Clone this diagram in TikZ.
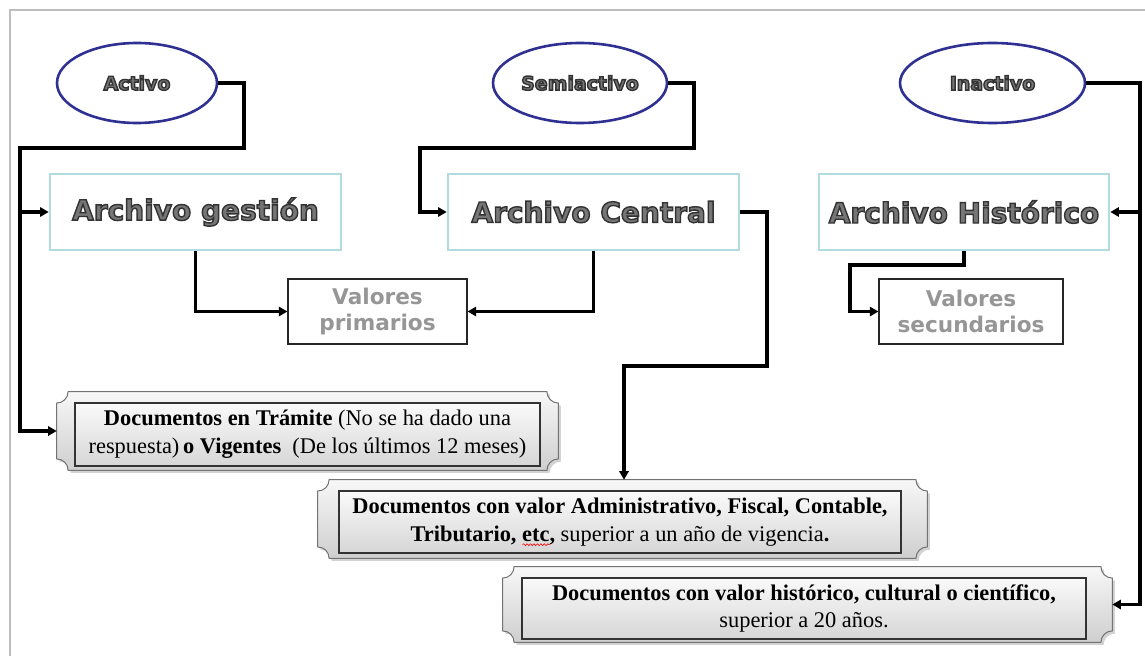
\documentclass[tikz,border=0pt]{standalone}
\usepackage{fontspec}
\setmainfont{Liberation Serif}
\newfontfamily\titlefont{DejaVu Sans}
\usetikzlibrary{arrows.meta,shapes.geometric,shadows,calc,decorations.pathmorphing}
\definecolor{ellblue}{RGB}{46,49,146}
\definecolor{archline}{RGB}{178,220,224}
\definecolor{titlegray}{RGB}{118,118,118}
\definecolor{valgray}{RGB}{150,150,150}
\definecolor{framegray}{RGB}{190,190,190}
\newdimen\pxu \pxu=0.75pt
\newsavebox\wavebox
\newdimen\wavewd
\newcommand\wavy[1]{\sbox\wavebox{#1}\wavewd=\wd\wavebox
  \rlap{\begin{pgfinterruptpicture}\tikz[baseline=0pt,x=1pt,y=1pt]\draw[red,line width=0.45pt,decorate,decoration={snake,amplitude=0.7pt,segment length=2.6pt}] (0pt,-2.6pt) -- (\wavewd,-2.6pt);\end{pgfinterruptpicture}}\usebox\wavebox}
\newcommand\outl[1]{{\special{pdf:literal direct 2 Tr 1.05 w 0.2 0.2 0.2 RG}#1\special{pdf:literal direct 0 Tr}}}
\newcommand\plaquepath[1]{%
  \path[plaqueshape] let \p1=(#1.north west), \p2=(#1.south east) in
    (\x1+8.5pt,\y1) -- (\x2-8.5pt,\y1)
    .. controls (\x2-8.5pt,\y1-4.7pt) and (\x2-4.7pt,\y1-8.5pt) .. (\x2,\y1-8.5pt)
    -- (\x2,\y2+8.5pt)
    .. controls (\x2-4.7pt,\y2+8.5pt) and (\x2-8.5pt,\y2+4.7pt) .. (\x2-8.5pt,\y2)
    -- (\x1+8.5pt,\y2)
    .. controls (\x1+8.5pt,\y2+4.7pt) and (\x1+4.7pt,\y2+8.5pt) .. (\x1,\y2+8.5pt)
    -- (\x1,\y1-8.5pt)
    .. controls (\x1+4.7pt,\y1-8.5pt) and (\x1+8.5pt,\y1-4.7pt) .. (\x1+8.5pt,\y1)
    -- cycle;}
\tikzset{
  ell/.style={ellipse, draw=ellblue, line width=2.6\pxu, fill=white, inner sep=0pt,
    font=\titlefont\bfseries\fontsize{14.2}{16}\selectfont, text=titlegray},
  archbox/.style={rectangle, draw=archline, line width=2.6\pxu, fill=white, inner sep=0pt,
    minimum height=76\pxu, font=\titlefont\bfseries\fontsize{21}{24}\selectfont, text=titlegray},
  valbox/.style={rectangle, draw=black!85, line width=1.1\pxu, fill=white, inner sep=0pt,
    minimum height=65\pxu, align=center,
    font=\titlefont\bfseries\fontsize{16.2}{19}\selectfont, text=valgray},
  plaqueouter/.style={rectangle, draw=none, inner sep=0pt},
  plaqueshape/.style={draw=black!55, line width=1\pxu, top color=gray!6, bottom color=gray!38,
    drop shadow={shadow xshift=2pt, shadow yshift=-2pt, opacity=0.35}},
  docbox/.style={rectangle, draw=black!80, line width=1.3\pxu, top color=gray!4, bottom color=gray!32,
    inner sep=0pt, align=center, font=\fontsize{16.8}{20.8}\selectfont},
  conn/.style={line width=3.2\pxu, draw=black, line join=miter},
  arr/.style={conn, -{Triangle[length=6.5pt,width=7pt]}},
}
\begin{document}
\begin{tikzpicture}[x=0.75pt,y=-0.75pt]
\useasboundingbox (0,0) rectangle (1145,656);
\draw[framegray, line width=1.2\pxu] (10,656) -- (10,10) -- (1145,10);

% ellipses
\node[ell, minimum width=160\pxu, minimum height=80\pxu] (e1) at (137,83) {\outl{Activo}};
\node[ell, minimum width=174\pxu, minimum height=80\pxu] (e2) at (580,83) {\outl{Semiactivo}};
\node[ell, minimum width=185\pxu, minimum height=80\pxu] (e3) at (992.5,83) {\outl{Inactivo}};

% archive boxes
\node[archbox, minimum width=291\pxu] (a1) at (195.5,212) {\outl{Archivo gestión}};
\node[archbox, minimum width=291\pxu] (a2) at (593.5,212) {\outl{Archivo Central}};
\node[archbox, minimum width=290\pxu] (a3) at (964,212) {\outl{Archivo Histórico}};

% valores
\node[valbox, minimum width=179\pxu] (v1) at (377.5,311.5) {Valores\\primarios};
\node[valbox, minimum width=184\pxu] (v2) at (971,311.5) {Valores\\secundarios};

% document plaques
\node[plaqueouter, minimum width=501\pxu, minimum height=78\pxu] (d1) at (307.5,431) {};
\node[plaqueouter, minimum width=609\pxu, minimum height=78\pxu] (d2) at (622.5,519) {};
\node[plaqueouter, minimum width=609\pxu, minimum height=75\pxu] (d3) at (807.5,604.5) {};
\plaquepath{d1}
\plaquepath{d2}
\plaquepath{d3}
\node[docbox, minimum width=465\pxu, minimum height=63\pxu] (t1) at (307.5,434.5)
  {\textbf{Documentos en Trámite} (No se ha dado una\\respuesta)\,\textbf{o Vigentes} \ (De los últimos 12 meses)};
\node[docbox, minimum width=562\pxu, minimum height=62\pxu] (t2) at (620,522)
  {\textbf{Documentos con valor Administrativo, Fiscal, Contable,}\\\textbf{Tributario, \wavy{etc},} superior a un año de vigencia\textbf{.}};
\node[docbox, minimum width=564\pxu, minimum height=61\pxu] (t3) at (804,608.5)
  {\textbf{Documentos con valor histórico, cultural o científico,}\\superior a 20 años.};

% connectors
\coordinate (jA) at (20,148);
\draw[arr] (e1.east) -| (244,148) -- (jA) |- (d1.west);
\draw[arr] (jA |- a1.west) -- (a1.west);
\draw[arr] (a1.south) |- (v1.west);
\draw[arr] (a2.south) |- (v1.east);
\draw[arr] (e2.east) -| (694,148) -- (420,148) |- (a2.west);
\coordinate (k2) at (624,366);
\draw[arr] (a2.east) -| (767,366) -- (k2) -- (k2 |- d2.north);
\coordinate (k3) at (1140,212);
\draw[arr] (e3.east) -| (k3) -- (a3.east);
\draw[arr] (k3) |- (d3.east);
\draw[arr] (a3.south) |- (850,265) |- (v2.west);
\end{tikzpicture}
\end{document}
